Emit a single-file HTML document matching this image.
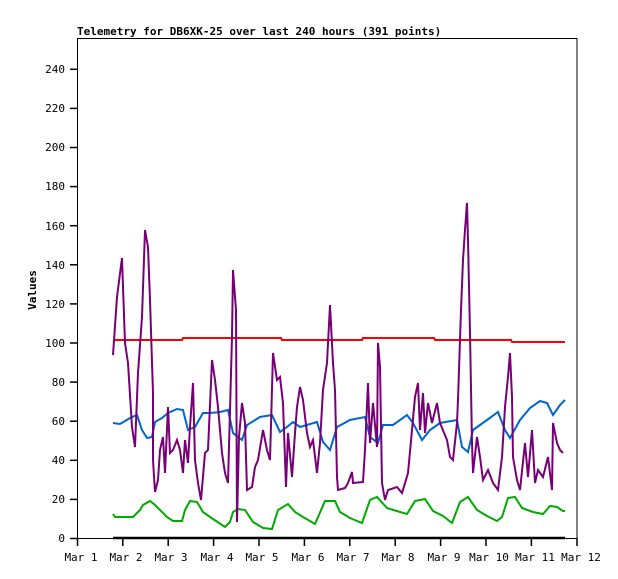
<!DOCTYPE html>
<html><head><meta charset="utf-8"><style>
html,body{margin:0;padding:0;background:#fff;}
svg{display:block;font-family:"DejaVu Sans Mono","Liberation Mono",monospace;}
</style></head><body>
<svg width="618" height="579" viewBox="0 0 618 579" xmlns="http://www.w3.org/2000/svg">
<rect width="618" height="579" fill="#fff"/>
<text x="77" y="35" font-size="11" font-weight="bold">Telemetry for DB6XK-25 over last 240 hours (391 points)</text>
<rect x="77.5" y="38.5" width="499.5" height="500" fill="none" stroke="#000" stroke-width="1"/>
<g stroke="#000" stroke-width="1.5">
<line x1="70" y1="538.5" x2="77" y2="538.5"/><line x1="70" y1="499.4" x2="77" y2="499.4"/><line x1="70" y1="460.3" x2="77" y2="460.3"/><line x1="70" y1="421.2" x2="77" y2="421.2"/><line x1="70" y1="382.1" x2="77" y2="382.1"/><line x1="70" y1="343" x2="77" y2="343"/><line x1="70" y1="303.9" x2="77" y2="303.9"/><line x1="70" y1="264.8" x2="77" y2="264.8"/><line x1="70" y1="225.7" x2="77" y2="225.7"/><line x1="70" y1="186.6" x2="77" y2="186.6"/><line x1="70" y1="147.5" x2="77" y2="147.5"/><line x1="70" y1="108.4" x2="77" y2="108.4"/><line x1="70" y1="69.3" x2="77" y2="69.3"/>
</g>
<g font-size="11" text-anchor="end">
<text x="65" y="542">0</text><text x="65" y="503">20</text><text x="65" y="464">40</text><text x="65" y="425">60</text><text x="65" y="386">80</text><text x="65" y="347">100</text><text x="65" y="308">120</text><text x="65" y="269">140</text><text x="65" y="230">160</text><text x="65" y="190">180</text><text x="65" y="151">200</text><text x="65" y="112">220</text><text x="65" y="73">240</text>
</g>
<g stroke="#000" stroke-width="1.5">
<line x1="77.5" y1="538" x2="77.5" y2="546"/><line x1="122.8" y1="538" x2="122.8" y2="546"/><line x1="168.2" y1="538" x2="168.2" y2="546"/><line x1="213.6" y1="538" x2="213.6" y2="546"/><line x1="259" y1="538" x2="259" y2="546"/><line x1="304.4" y1="538" x2="304.4" y2="546"/><line x1="349.8" y1="538" x2="349.8" y2="546"/><line x1="395.2" y1="538" x2="395.2" y2="546"/><line x1="440.6" y1="538" x2="440.6" y2="546"/><line x1="486" y1="538" x2="486" y2="546"/><line x1="531.4" y1="538" x2="531.4" y2="546"/><line x1="577" y1="538" x2="577" y2="546"/>
</g>
<g font-size="11" text-anchor="middle">
<text x="81" y="561">Mar 1</text><text x="126" y="561">Mar 2</text><text x="171" y="561">Mar 3</text><text x="217" y="561">Mar 4</text><text x="262" y="561">Mar 5</text><text x="308" y="561">Mar 6</text><text x="353" y="561">Mar 7</text><text x="398" y="561">Mar 8</text><text x="444" y="561">Mar 9</text><text x="489" y="561">Mar 10</text><text x="535" y="561">Mar 11</text><text x="581" y="561">Mar 12</text>
</g>
<text transform="translate(36,290) rotate(-90)" font-size="11" font-weight="bold" text-anchor="middle">Values</text>
<line x1="113" y1="538" x2="565" y2="538" stroke="#000" stroke-width="2.5"/>
<polyline fill="none" stroke="#ff0000" stroke-width="2" points="113,340 182,340 183,338 281,338 282,340 362,340 363,338 434,338 435,340 511,340 512,342 565,342"/>
<polyline fill="none" stroke="#00aa00" stroke-width="2" points="113,514 115,517 133,517 140,510 143,505 150,501 155,505 167,517 173,521 182,521 185,510 190,501 197,502 203,512 213,519 225,527 230,522 233,512 238,509 245,510 253,522 263,528 272,529 278,510 288,504 295,512 303,517 315,524 325,501 335,501 340,512 350,518 362,523 370,500 377,497 387,508 400,512 407,514 415,501 425,499 433,511 443,516 452,523 460,502 468,497 477,510 487,516 497,521 502,517 508,498 515,497 522,508 533,512 543,514 550,506 557,507 563,511 565,511"/>
<polyline fill="none" stroke="#0066cc" stroke-width="2" points="113,423 120,424 130,418 137,415 142,430 147,438 152,437 155,422 162,418 168,413 177,409 183,410 188,430 195,427 203,413 210,413 220,412 228,410 233,433 242,440 247,425 260,417 272,415 280,432 287,427 293,422 300,427 317,422 323,442 330,450 337,427 350,420 365,417 370,437 378,443 383,425 393,425 407,415 413,423 422,440 430,430 440,423 457,420 462,447 468,452 473,430 487,420 498,412 505,430 510,438 520,420 530,408 540,401 547,403 553,415 560,405 565,400"/>
<polyline fill="none" stroke="#770077" stroke-width="2" points="113,355 117,297 122,258 125,343 128,363 132,427 135,447 138,373 142,317 145,230 148,247 150,300 153,393 153,460 155,492 158,480 160,450 163,437 165,473 168,407 170,453 173,450 177,440 180,450 183,473 185,440 188,463 190,427 193,383 195,460 198,483 201,500 205,453 208,450 212,360 215,380 218,407 222,453 225,473 228,483 232,337 233,270 236,310 237,522 239,437 242,403 245,423 247,490 252,487 255,467 258,460 263,430 267,450 270,460 273,353 277,380 280,377 283,403 286,487 288,433 292,477 295,433 297,407 300,387 303,400 307,433 310,447 313,440 317,473 320,443 323,390 327,363 330,305 333,363 335,390 337,477 338,490 345,488 348,483 352,472 353,483 363,482 365,450 368,383 370,443 373,403 377,447 378,343 380,367 382,483 385,500 388,490 397,487 402,493 408,473 412,430 415,397 418,383 420,430 423,393 425,433 428,403 432,423 437,403 440,423 447,440 450,457 453,460 457,423 458,400 461,310 463,260 465,230 467,203 468,240 470,333 472,443 473,473 477,437 480,457 483,480 488,470 493,483 498,490 502,457 505,407 508,377 510,353 512,397 513,457 517,480 520,490 525,443 528,477 532,430 535,483 538,470 543,477 548,457 552,490 553,423 557,443 560,450 563,453"/>
</svg>
</body></html>
